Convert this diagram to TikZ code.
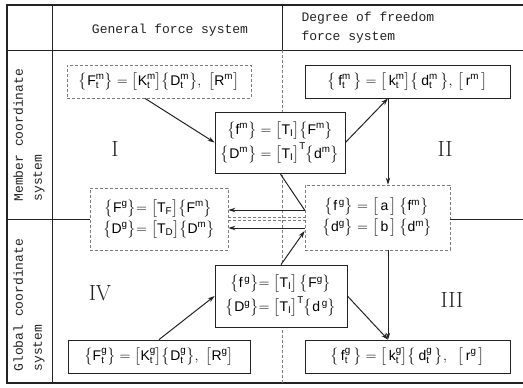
\documentclass[tikz,border=0pt]{standalone}
\usepackage{amsmath}
\usepackage{fontspec}
\setsansfont{Liberation Sans}
\setmonofont{Liberation Mono}
\usepackage{tikz}
\usetikzlibrary{arrows.meta,positioning,calc}
\definecolor{qink}{RGB}{35,35,35}
\definecolor{qgray}{RGB}{125,125,125}
\newcommand{\vc}[1]{\bigl\{\mathsf{#1}\bigr\}}
\newcommand{\mx}[1]{\bigl[\mathsf{#1}\bigr]}

\begin{document}
\begin{tikzpicture}[x=1pt,y=-1pt,
  box/.style={draw=qink,line width=0.8pt,fill=white,inner sep=0pt,
    font=\fontsize{14}{16}\selectfont},
  faint/.style={box,draw=qgray,densely dashed},
  lbl/.style={font=\ttfamily\fontsize{13}{19}\selectfont,text=qink},
  num/.style={font=\fontsize{22}{22}\selectfont,text=qink},
  link/.style={qink,line width=1pt,-{Stealth[length=7pt,width=4.5pt]}}]
\useasboundingbox (0,0) rectangle (523,388);
% table frame
\draw[qink,line width=1.2pt] (523,5) -- (7,5) -- (7,383) -- (523,383);
\draw[qink] (52,5) -- (52,383);
\draw[qink] (7,50) -- (523,50);
\draw[qink] (282,5) -- (282,50);
\draw[qgray,densely dashed] (282,50) -- (282,383);
% headings
\node[lbl] (gen) at (170,30) {General force system};
\node[lbl,align=left,anchor=west] (dof) at (298,28) {Degree of freedom\\force system};
\node[lbl,rotate=90,align=left,anchor=north west] (mem) at (10,205) {Member coordinate\\system};
\node[lbl,rotate=90,align=left,anchor=north west] (glo) at (10,375) {Global coordinate\\system};
\foreach \t/\x/\y in {I/115/149,II/445/149,III/452/300,IV/100/293}
  \node[num] (n\t) at (\x,\y) {\t};
% boxes
\node[faint,minimum width=184,minimum height=33] (tl) at (159,81.5)
  {$\vc{F^m_t}=\mx{K^m_t}\vc{D^m_t},\ \mx{R^m}$};
\node[box,minimum width=205,minimum height=33] (tr) at (407.5,81.5)
  {$\vc{\,f^m_t\,}=\mx{\,k^m_t}\vc{\,d^m_t\,},\,\mx{\,r^m\,}$};
\node[box,minimum width=130,minimum height=61] (ct) at (280,142.5)
  {$\begin{array}{@{}r@{\;=\;}l@{}}
   \vc{f^m} & \mx{T_I}\vc{F^m}\\[4pt]
   \vc{D^m} & \mx{T_I}^{\mathsf T}\vc{d^m}\end{array}$};
\node[faint,minimum width=138,minimum height=62] (lm) at (159,219)
  {$\begin{array}{@{}r@{=\;}l@{}}
   \vc{F^g} & \mx{T_F}\vc{F^m}\\[4pt]
   \vc{D^g} & \mx{T_D}\vc{D^m}\end{array}$};
\node[faint,minimum width=145,minimum height=65] (rm) at (377.5,217.5)
  {$\begin{array}{@{}r@{\;=\;}l@{}}
   \vc{f^{\,g}} & \mx{\,a\,}\,\vc{f^m}\\[4pt]
   \vc{d^g} & \mx{\,b\,}\,\vc{d^m}\end{array}$};
\node[box,minimum width=132,minimum height=62] (cb) at (281,296)
  {$\begin{array}{@{}r@{=\;}l@{}}
   \vc{f^{\,g}} & \mx{T_I}\,\vc{F^g}\\[4pt]
   \vc{D^g} & \mx{T_I}^{\mathsf T}\vc{d^{\,g}}\end{array}$};
\node[box,minimum width=182,minimum height=33] (bl) at (159,356.5)
  {$\vc{F^g_t}=\mx{K^g_t}\vc{D^g_t},\ \mx{R^g}$};
\node[box,minimum width=205,minimum height=33] (br) at (407.5,356.5)
  {$\vc{\,f^g_t\,}=\mx{\,k^g_t}\vc{\,d^g_t\,},\;\;\mx{\,r^g\,}$};
% section line through the middle
\draw[qink] (7,219) -- (lm.west);
\draw[qink] (rm.east |- lm.west) -- (523,219);
\draw[qgray,densely dashed,double,double distance=2.5pt] (lm.east) -- (lm.east -| rm.west);
% links
\coordinate (vx) at (388,0);
\coordinate (ha) at (0,210);
\coordinate (hb) at (0,228);
\coordinate (hc) at (0,231);
\draw[link] ($(tl.south)+(-14,0)$) -- (ct.west);
\draw[link] (ct.east) -- (tr.south -| vx);
\draw[link] (tr.south -| vx) -- (rm.north -| vx);
\draw[qink,line width=1pt] (ct.south) -- (rm.west |- ha);
\draw[link] (rm.west |- ha) -- (lm.east |- ha);
\draw[link] (rm.west |- hb) -- (lm.east |- hb);
\draw[link] (cb.north) -- (rm.west |- hc);
\draw[link] (bl.north) -- (cb.west);
\draw[link] (cb.east) -- (br.north -| vx);
\draw[link] (rm.south -| vx) -- (br.north -| vx);
\end{tikzpicture}
\end{document}
